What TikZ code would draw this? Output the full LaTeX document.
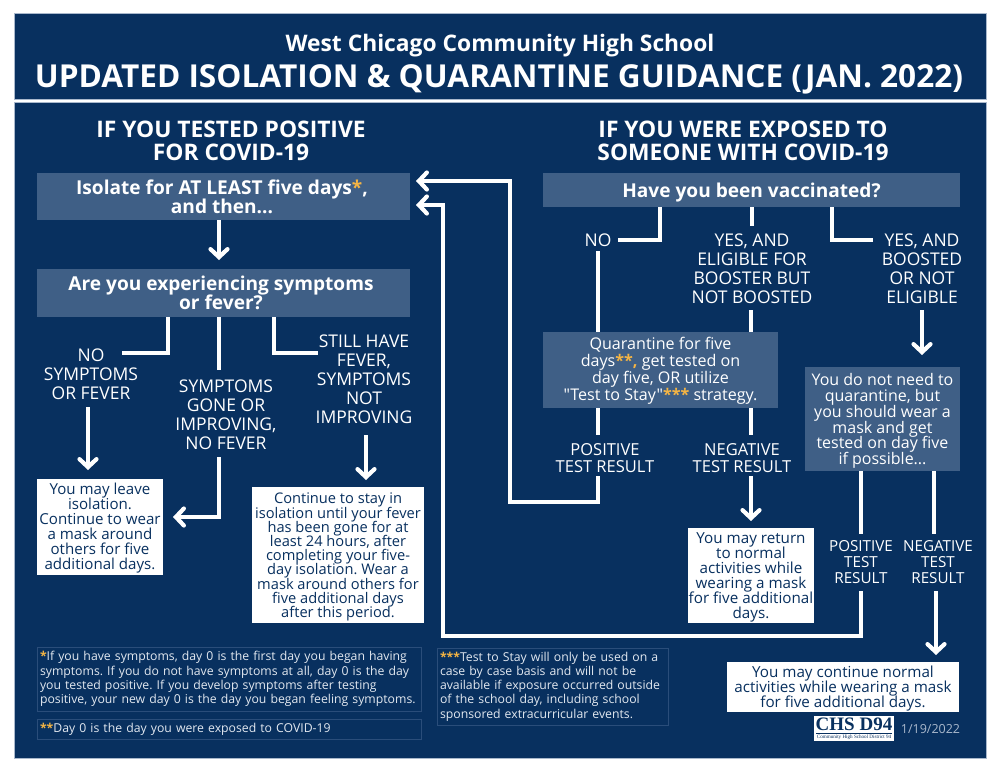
\documentclass[tikz,border=0pt]{standalone}
\usepackage{fontspec}
\setmainfont{Open Sans}[Ligatures=TeXOff]
\newfontfamily\logofont{Liberation Serif}
\usetikzlibrary{arrows.meta}
\definecolor{panelblue}{HTML}{08305F}
\definecolor{slateblue}{HTML}{3F5F86}
\definecolor{edgeblue}{HTML}{2A4D7A}
\definecolor{stargold}{HTML}{F5B544}
\definecolor{paleblue}{HTML}{A9B8CC}
\definecolor{noteblue}{HTML}{E2E8F0}
\newcommand{\fs}[2]{\fontsize{#1pt}{#2pt}\selectfont}
\newcommand{\gold}[1]{\textcolor{stargold}{\textbf{#1}}}
\newcommand{\lift}[1]{\rule{0pt}{#1pt}}
\tikzset{
  every node/.append style={execute at begin node={\frenchspacing\lineskiplimit=-100pt\hyphenpenalty=10000\relax}},
  panel/.style={fill=panelblue,draw=paleblue,line width=0.5pt},
  titleA/.style={text=white,font=\fs{22.8}{28}\bfseries,inner sep=0pt},
  titleB/.style={text=white,font=\fs{31.6}{36}\bfseries,inner sep=0pt},
  heading/.style={text=white,font=\fs{22.8}{23}\bfseries,align=center,inner sep=0pt},
  darkbox/.style={fill=slateblue,text=white,align=center,inner sep=0pt},
  boldtext/.style={font=\fs{19.1}{19}\bfseries},
  whitebox/.style={fill=white,text=panelblue,align=center,inner sep=0pt},
  optiontext/.style={text=white,align=center,inner sep=0pt,font=\fs{17.5}{19}},
  smalloption/.style={text=white,align=center,inner sep=0pt,font=\fs{15.2}{16}},
  notebox/.style={draw=edgeblue,line width=1pt,text=noteblue,align=left,inner sep=0pt,font=\fs{12.25}{14.3}},
  flow/.style={draw=white,line width=4.2pt},
  flowtip/.style={flow,-{Straight Barb[length=8pt,width=17pt,line cap=round]}},
}
\begin{document}
\begin{tikzpicture}[x=1pt,y=-1pt]
\useasboundingbox (0,0) rectangle (999,771);
\fill[white] (0,0) rectangle (999,771);
\draw[panel] (14,13.5) rectangle (986.5,99);
\draw[panel] (14,102) rectangle (986.5,758);
\node[titleA] (t1) at (500,46) {West Chicago Community High School};
\node[titleB] (t2) at (499,79.5) {UPDATED ISOLATION \& QUARANTINE GUIDANCE (JAN. 2022)};
\node[heading] (h1) at (231,140.5) {IF YOU TESTED POSITIVE\\FOR COVID-19};
\node[heading] (h2) at (743,140.5) {IF YOU WERE EXPOSED TO\\SOMEONE WITH COVID-19};
% left column boxes
\node[darkbox,boldtext,minimum width=373,minimum height=47] (iso) at (223.5,196.5) {\hspace{-3pt}Isolate for AT LEAST five days\gold{*},\\\hspace{-3pt}and then...};
\node[darkbox,boldtext,minimum width=373,minimum height=48] (sym) at (223.5,293) {\hspace{-5pt}Are you experiencing symptoms\\\hspace{-5pt}or fever?};
\node[optiontext] (lno) at (91,374) {NO\\SYMPTOMS\\OR FEVER};
\node[optiontext] (lgone) at (226,415) {SYMPTOMS\\GONE OR\\IMPROVING,\\NO FEVER};
\node[optiontext] (lstill) at (364,379) {STILL HAVE\\FEVER,\\SYMPTOMS\\NOT\\IMPROVING};
\node[whitebox,font=\fs{15.1}{15.1},minimum width=126,minimum height=96] (leave) at (100,527) {\lift{13.5}You may leave\\isolation.\\Continue to wear\\a mask around\\others for five\\additional days.};
\node[whitebox,font=\fs{14.65}{14.2},minimum width=172,minimum height=136] (stay) at (338,555) {\lift{14.9}Continue to stay in\\isolation until your fever\\has been gone for at\\least 24 hours, after\\completing your five-\\day isolation. Wear a\\mask around others for\\five additional days\\after this period.};
% right column boxes
\node[darkbox,boldtext,minimum width=417,minimum height=34] (vac) at (751.5,190) {\raisebox{0pt}[14pt][0pt]{Have you been vaccinated?}};
\node[optiontext] (rno) at (598,240) {NO};
\node[optiontext] (ryes) at (752,268.5) {YES, AND\\ELIGIBLE FOR\\BOOSTER BUT\\NOT BOOSTED};
\node[optiontext] (rboost) at (922,268.5) {YES, AND\\BOOSTED\\OR NOT\\ELIGIBLE};
\node[darkbox,font=\fs{16.1}{17},minimum width=235,minimum height=76] (quar) at (660.5,370) {\lift{14.4}Quarantine for five\\days\gold{**,} get tested on\\day five, OR utilize\\"Test to Stay"\gold{***} strategy.};
\node[darkbox,font=\fs{16}{15.7},minimum width=155,minimum height=104] (nomask) at (882.5,419) {\lift{16.2}You do not need to\\quarantine, but\\you should wear a\\mask and get\\tested on day five\\if possible...};
\node[optiontext,font=\fs{16.5}{17}] (qpos) at (605,458.5) {POSITIVE\\TEST RESULT};
\node[optiontext,font=\fs{16.5}{17}] (qneg) at (742,458.5) {NEGATIVE\\TEST RESULT};
\node[whitebox,font=\fs{15.2}{15.1},minimum width=126,minimum height=95] (ret) at (751,575.5) {\lift{14.9}You may return\\to normal\\activities while\\wearing a mask\\for five additional\\days.};
\node[smalloption] (npos) at (861,562) {POSITIVE\\TEST\\RESULT};
\node[smalloption] (nneg) at (938,562) {NEGATIVE\\TEST\\RESULT};
\node[whitebox,font=\fs{15.2}{15},minimum width=232,minimum height=50] (cont) at (843,686.5) {\lift{16}You may continue normal\\activities while wearing a mask\\for five additional days.};
% footnotes
\node[notebox,minimum width=384,minimum height=64,text width=378] (n1) at (229,679) {\gold{*}If you have symptoms, day 0 is the first day you began having\\symptoms. If you do not have symptoms at all, day 0 is the day\\you tested positive. If you develop symptoms after testing\\positive, your new day 0 is the day you began feeling symptoms.};
\node[notebox,minimum width=384,minimum height=20,text width=378] (n2) at (229,729) {\gold{**}Day 0 is the day you were exposed to COVID-19};
\node[notebox,minimum width=231,minimum height=77,text width=225] (n3) at (552.5,686.5) {\gold{***}Test to Stay will only be used on a\\case by case basis and will not be\\available if exposure occurred outside\\of the school day, including school\\sponsored extracurricular events.};
% logo and date
\node[fill=white,minimum width=80,minimum height=25,inner sep=0pt] (logo) at (854,728.5) {};
\node[text=panelblue,inner sep=0pt,font=\logofont\fs{19}{19}\bfseries] (logoA) at (854,724.5) {CHS D94};
\node[text=panelblue,inner sep=0pt,font=\logofont\fs{5.1}{6}] (logoB) at (854,737) {Community High School District 94};
\draw[panelblue,line width=0.5pt] (816,733) -- (892,733);
\node[text=paleblue,inner sep=0pt,font=\fs{12.5}{14}] (date) at (930.5,729.5) {1/19/2022};
% coordinates for connectors
\coordinate (a1) at (168,353); \coordinate (a2) at (122,353);
\coordinate (b1) at (219,370);
\coordinate (c1) at (274,353); \coordinate (c2) at (318,353);
\coordinate (d1) at (88,407);
\coordinate (e1) at (219,457); \coordinate (e2) at (219,517); 
\coordinate (f1) at (366,435);
\coordinate (g1) at (660,240); \coordinate (g2) at (618,240);
\coordinate (h0) at (752,226);
\coordinate (i1) at (832,240); \coordinate (i2) at (873,240);
\coordinate (j1) at (598,251);
\coordinate (k1) at (751,310);
\coordinate (l1) at (922,310);
\coordinate (m1) at (598,435); \coordinate (m2) at (751,435);
\coordinate (n11) at (598,476); \coordinate (n12) at (598,502); \coordinate (n13) at (510,502); \coordinate (n14) at (510,181);
\coordinate (o1) at (751,476);
\coordinate (p1) at (861,534); \coordinate (p2) at (934,534);
\coordinate (q1) at (861,591); \coordinate (q2) at (861,636); \coordinate (q3) at (443,636); \coordinate (q4) at (443,205);
\coordinate (r1) at (936,591);
\coordinate (ti1) at (416,181); \coordinate (ti2) at (416,205);
\coordinate (ti3) at (173,517);
% connectors
\draw[flowtip] (iso.south -| 219,0) -- (219,260);
\draw[flow] (sym.south -| a1) -- (a1) -- (a2);
\draw[flow] (sym.south -| b1) -- (b1);
\draw[flow] (sym.south -| c1) -- (c1) -- (c2);
\draw[flowtip] (d1) -- (88,470);
\draw[flowtip] (e1) -- (e2) -- (ti3);
\draw[flowtip] (f1) -- (366,480);
\draw[flow] (vac.south -| g1) -- (g1) -- (g2);
\draw[flow] (vac.south -| h0) -- (h0);
\draw[flow] (vac.south -| i1) -- (i1) -- (i2);
\draw[flow] (j1) -- (quar.north -| j1);
\draw[flow] (k1) -- (quar.north -| k1);
\draw[flowtip] (l1) -- (922,355);
\draw[flow] (quar.south -| m1) -- (m1);
\draw[flow] (quar.south -| m2) -- (m2);
\draw[flowtip] (n11) -- (n12) -- (n13) -- (n14) -- (ti1);
\draw[flowtip] (o1) -- (751,521);
\draw[flow] (nomask.south -| p1) -- (p1);
\draw[flow] (nomask.south -| p2) -- (p2);
\draw[flowtip] (q1) -- (q2) -- (q3) -- (q4) -- (ti2);
\draw[flowtip] (r1) -- (936,655);
\end{tikzpicture}
\end{document}
